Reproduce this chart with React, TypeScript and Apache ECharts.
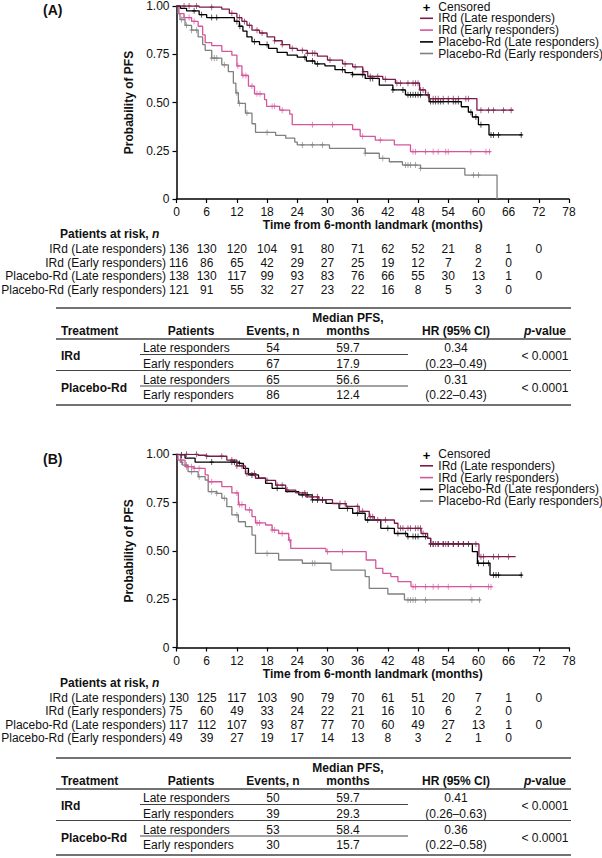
import React, { useEffect, useRef } from 'react';
import * as echarts from 'echarts';

const FONT = '"Liberation Sans", Arial, Helvetica, sans-serif';

const seriesNames = [
  'IRd (Late responders)',
  'IRd (Early responders)',
  'Placebo-Rd (Late responders)',
  'Placebo-Rd (Early responders)',
];
const seriesColors = ['#7b1b4a', '#d4569d', '#000000', '#808080'];
const timeTicks = [0, 6, 12, 18, 24, 30, 36, 42, 48, 54, 60, 66, 72, 78];

// ---------- Panel A: KM steps [month, probability] ----------
const aIrdLate = [[0,1],[4.5,0.994],[9,0.984],[10.5,0.962],[12,0.94],[13,0.92],[14,0.9],[15,0.875],[16.5,0.86],[18,0.84],[19.5,0.82],[21,0.8],[22.5,0.78],[24,0.77],[26,0.755],[28,0.74],[30,0.72],[33,0.7],[35,0.685],[37,0.66],[38,0.635],[41,0.62],[43.5,0.6],[48.3,0.565],[49.5,0.54],[50.2,0.52],[59.7,0.46],[67,0.46]];
const aIrdEarly = [[0,1],[0.5,0.96],[1.5,0.94],[3,0.92],[4.3,0.895],[5.2,0.85],[5.7,0.81],[7,0.795],[9,0.765],[11,0.745],[12,0.69],[13,0.64],[14.3,0.585],[15.5,0.545],[17.5,0.515],[17.9,0.48],[20.5,0.46],[22.5,0.44],[23,0.385],[35,0.36],[36.5,0.325],[39.5,0.305],[43.3,0.28],[46.5,0.245],[62.4,0.245]];
const aPboLate = [[0,1],[0.8,0.988],[2,0.975],[4.5,0.955],[6,0.94],[11.5,0.92],[12.5,0.895],[13.2,0.87],[14,0.84],[15,0.815],[16.5,0.8],[18.3,0.78],[20,0.76],[22,0.745],[24,0.735],[25.8,0.715],[27.5,0.7],[29.5,0.69],[31.5,0.67],[33.5,0.655],[35,0.645],[37.5,0.625],[40.3,0.59],[43,0.565],[45.5,0.54],[50.2,0.505],[56.6,0.478],[58,0.45],[58.8,0.425],[60,0.385],[62.1,0.332],[68.7,0.332]];
const aPboEarly = [[0,1],[0.3,0.96],[0.7,0.93],[1.7,0.9],[3,0.875],[4.3,0.84],[5.2,0.8],[5.7,0.77],[7,0.73],[9,0.695],[10.3,0.66],[11.3,0.6],[11.8,0.55],[12.3,0.495],[13.7,0.445],[15,0.39],[15.7,0.345],[19.7,0.33],[21.7,0.315],[23.5,0.295],[24,0.28],[30.4,0.262],[37.5,0.237],[40.3,0.211],[42.3,0.193],[44.9,0.176],[48.5,0.159],[57.3,0.124],[63.7,0]];

// censoring times (months)
const aIrdLateCens = [1.5,2.5,4,7,11,12.5,13.5,14.5,16,17,19.5,21,23,25,26,27,27.5,30.5,33.5,35.5,37.2,38.5,40,41.5,43.8,44.5,46,47,47.5,48,48.5,49,51,51.5,52,53,54,55,56,57.5,58,60.5,62,63,65,66.5];
const aIrdEarlyCens = [1.5,2.5,3.5,12.2,13.2,13.8,15,16,16.6,19,19.5,21,27,31,37,40.5,47,47.5,49.5,51,52,53.5,54,58.5,61.5,62.2];
const aPboLateCens = [3.5,5,7,8,12,12.6,15.5,18,25.5,27,28,33,35,37,38.5,39,43,45,46,46.5,47,47.5,48,48.5,50,50.5,51,51.5,52,52.5,53,54,55,55.5,56,58.5,59.5,60.5,62.5,63,64,68.5];
const aPboEarlyCens = [1,2,3,4,7,7.5,8,9.5,12,12.5,14,18,25,27,29,37.5,41,45.5,46,46.5,47.5,48.5,59,60];

const aRiskIrdLate = [136,130,120,104,91,80,71,62,52,21,8,1,0];
const aRiskIrdEarly = [116,86,65,42,29,27,25,19,12,7,2,0];
const aRiskPboLate = [138,130,117,99,93,83,76,66,55,30,13,1,0];
const aRiskPboEarly = [121,91,55,32,27,23,22,16,8,5,3,0];

const aEvents = [[54, 67], [65, 86]];
const aMedian = [['59.7', '17.9'], ['56.6', '12.4']];
const aHR = ['0.34', '0.31'];
const aCI = ['(0.23\u20130.49)', '(0.22\u20130.43)'];
const aP = ['< 0.0001', '< 0.0001'];

// ---------- Panel B ----------
const bIrdLate = [[0,1],[4.3,0.995],[6,0.99],[10,0.97],[12,0.94],[13.7,0.9],[15.7,0.876],[17.7,0.865],[19.7,0.84],[21.7,0.815],[23.7,0.8],[25.7,0.78],[28.3,0.765],[31,0.745],[33.7,0.73],[36.3,0.705],[38.3,0.677],[39.3,0.66],[43.3,0.643],[44,0.617],[48.6,0.59],[49.9,0.565],[50.5,0.536],[60.1,0.47],[67.4,0.47]];
const bIrdEarly = [[0,1],[0.3,0.97],[1.7,0.936],[3.5,0.927],[5.7,0.893],[6.3,0.858],[9,0.833],[11,0.8],[12.3,0.74],[13.7,0.712],[15,0.677],[15.7,0.645],[17.7,0.634],[19,0.608],[20.3,0.59],[22.3,0.556],[22.7,0.513],[29.7,0.496],[37.7,0.453],[39.6,0.41],[41,0.384],[42.6,0.367],[44,0.341],[46.6,0.315],[62.7,0.315]];
const bPboLate = [[0,1],[1,0.997],[1.7,0.98],[3.7,0.96],[12.5,0.953],[13.3,0.927],[14.3,0.893],[16.3,0.876],[17.7,0.85],[19,0.824],[21.7,0.807],[24.3,0.79],[27,0.764],[29.7,0.746],[32.3,0.72],[35,0.695],[37.5,0.66],[40.6,0.617],[43.3,0.59],[45.9,0.574],[49.9,0.565],[50.5,0.536],[58.8,0.496],[59.8,0.436],[62.3,0.375],[68.7,0.375]];
const bPboEarly = [[0,1],[0.8,0.96],[1.2,0.944],[2.3,0.91],[4.3,0.884],[5.7,0.867],[6.3,0.807],[8,0.798],[9,0.772],[10,0.729],[11,0.686],[12.3,0.651],[13.7,0.626],[15,0.582],[15.7,0.487],[20.3,0.453],[25,0.436],[30.7,0.4],[37.5,0.367],[38.3,0.306],[42,0.277],[45.3,0.246],[60.4,0.246]];

const bIrdLateCens = [2,4,6,9,11,12,13,14,15.5,18,20,21,22,25.5,27,28,29,32.5,33.5,36,37,38.5,39,40,41.5,44.5,45,46,46.5,47.5,48,48.5,49,50.5,51,51.5,52,53,53.5,54,55,56,57,59.5,60.5,61,63,64,66];
const bIrdEarlyCens = [1,2,3,3.5,4.5,7,12,12.5,13,14.5,16,16.5,19,19.5,21,22.5,30,33,47,47.5,49.5,51,52,54,58.5,62,62.5];
const bPboLateCens = [1,7,11,11.5,12.5,15,20,25,26,27,28,29,34,36,38,42,44,45.5,46,47,47.5,48,49.5,50.5,51,52,53,54,55,56,57,58,60,61,62,63,63.5,64,68.5];
const bPboEarlyCens = [1,2,3,4.5,7,8,9.5,12,18,27,27.5,46,46.5,47,47.5,49.5,58.7,60.2];

const bRiskIrdLate = [130,125,117,103,90,79,70,61,51,20,7,1,0];
const bRiskIrdEarly = [75,60,49,33,24,22,21,16,10,6,2,0];
const bRiskPboLate = [117,112,107,93,87,77,70,60,49,27,13,1,0];
const bRiskPboEarly = [49,39,27,19,17,14,13,8,3,2,1,0];

const bEvents = [[50, 39], [53, 30]];
const bMedian = [['59.7', '29.3'], ['58.4', '15.7']];
const bHR = ['0.41', '0.36'];
const bCI = ['(0.26\u20130.63)', '(0.22\u20130.58)'];
const bP = ['< 0.0001', '< 0.0001'];

const tableTreatments = ['IRd', 'Placebo-Rd'];
const tablePatients = ['Late responders', 'Early responders'];

const panels = [
  {
    label: '(A)', labelY: 10, top: 6, height: 193, legendTop: 6.5, tableTop: 308,
    km: [aIrdLate, aIrdEarly, aPboLate, aPboEarly],
    cens: [aIrdLateCens, aIrdEarlyCens, aPboLateCens, aPboEarlyCens],
    risk: [aRiskIrdLate, aRiskIrdEarly, aRiskPboLate, aRiskPboEarly],
    events: aEvents, median: aMedian, hr: aHR, ci: aCI, p: aP,
  },
  {
    label: '(B)', labelY: 459, top: 454.3, height: 193.2, legendTop: 454, tableTop: 758,
    km: [bIrdLate, bIrdEarly, bPboLate, bPboEarly],
    cens: [bIrdLateCens, bIrdEarlyCens, bPboLateCens, bPboEarlyCens],
    risk: [bRiskIrdLate, bRiskIrdEarly, bRiskPboLate, bRiskPboEarly],
    events: bEvents, median: bMedian, hr: bHR, ci: bCI, p: bP,
  },
];

function stepValue(km: number[][], t: number) {
  let v = km[0][1];
  for (const [x, y] of km) if (x <= t) v = y;
  return v;
}

function txt(x: number, y: number, text: string, opt: any = {}) {
  const style: any = {
    text,
    fontFamily: FONT,
    fontSize: opt.size || 12,
    fontWeight: opt.bold ? 'bold' : 'normal',
    fontStyle: opt.italic ? 'italic' : 'normal',
    fill: opt.color || '#111',
    align: opt.align || 'left',
    textAlign: opt.align || 'left',
    verticalAlign: 'middle',
    textVerticalAlign: 'middle',
  };
  if (opt.lineHeight) style.lineHeight = opt.lineHeight;
  return { type: 'text', x, y, silent: true, z: 10, style };
}
function hline(x1: number, x2: number, y: number, w = 1, color = '#333') {
  return { type: 'line', silent: true, z: 10, shape: { x1, y1: y, x2, y2: y }, style: { stroke: color, lineWidth: w } };
}

export default function App() {
  const ref = useRef<HTMLDivElement>(null);
  useEffect(() => {
    const chart = echarts.init(ref.current!, null, { renderer: 'svg' });
    const grid = panels.map((p) => ({ left: 176.5, width: 392.5, top: p.top, height: p.height }));
    const xAxis = panels.map((p, i) => ({
      type: 'value', gridIndex: i, min: 0, max: 78, interval: 6,
      name: 'Time from 6-month landmark (months)', nameLocation: 'middle', nameGap: 20,
      nameTextStyle: { fontFamily: FONT, fontSize: 12, fontWeight: 'bold', color: '#111' },
      axisLine: { lineStyle: { color: '#000', width: 1.5 } },
      axisTick: { length: 4, lineStyle: { color: '#000', width: 1.2 } },
      axisLabel: { margin: 7, fontFamily: FONT, fontSize: 12, color: '#111' },
      splitLine: { show: false },
    }));
    const yAxis = panels.map((p, i) => ({
      type: 'value', gridIndex: i, min: 0, max: 1, interval: 0.25,
      name: 'Probability of PFS', nameLocation: 'middle', nameGap: 34,
      nameTextStyle: { fontFamily: FONT, fontSize: 12, fontWeight: 'bold', color: '#111' },
      axisLine: { show: true, lineStyle: { color: '#000', width: 1.5 } },
      axisTick: { show: true, length: 4, lineStyle: { color: '#000', width: 1.2 } },
      axisLabel: {
        margin: 7, fontFamily: FONT, fontSize: 12, color: '#111',
        formatter: (v: number) => (v === 0 ? '0' : v.toFixed(2)),
      },
      splitLine: { show: false },
    }));
    const series: any[] = [];
    const drawOrder = [3, 1, 2, 0];
    panels.forEach((p, i) => {
      drawOrder.forEach((k, zi) => {
        series.push({
          type: 'line', name: seriesNames[k], xAxisIndex: i, yAxisIndex: i,
          data: p.km[k], step: 'end', symbol: 'none', showSymbol: false, z: 2 + zi,
          lineStyle: { color: seriesColors[k], width: 1.3 },
        });
        series.push({
          type: 'scatter', name: seriesNames[k] + ' censored', xAxisIndex: i, yAxisIndex: i,
          data: p.cens[k].map((t) => [t, stepValue(p.km[k], t)]),
          symbol: 'path://M0,5L10,5M5,0L5,10', symbolSize: [4, 6], z: 2 + zi,
          itemStyle: { color: seriesColors[k], borderColor: seriesColors[k], borderWidth: 1 },
        });
      });
    });
    chart.setOption({ animation: false, grid, xAxis, yAxis, series });

    const g: any[] = [];
    const riskOffsets = [50, 63.6, 77.2, 90.8];
    panels.forEach((p, i) => {
      const axisY = p.top + p.height;
      g.push(txt(43, p.labelY, p.label, { bold: true, size: 14 }));
      // legend
      const L = p.legendTop;
      g.push(txt(426.5, L + 1, '+', { bold: true, size: 13, align: 'center', color: '#000', lineHeight: 11 }));
      g.push(txt(438.3, L, 'Censored', { lineHeight: 11 }));
      const lOff = [11.8, 23.6, 35.4, 47];
      seriesNames.forEach((n, k) => {
        g.push({ type: 'line', silent: true, z: 10, shape: { x1: 420, y1: L + lOff[k], x2: 433, y2: L + lOff[k] }, style: { stroke: seriesColors[k], lineWidth: 1.6 } });
        g.push(txt(438.3, L + lOff[k], n, { lineHeight: 11 }));
      });
      // at-risk
      g.push({
        type: 'text', x: 60, y: axisY + 35.4, silent: true, z: 10,
        style: {
          text: '{b|Patients at risk, }{bi|n}', verticalAlign: 'middle', textVerticalAlign: 'middle',
          rich: {
            b: { fontFamily: FONT, fontSize: 12, fontWeight: 'bold', fill: '#111', color: '#111' },
            bi: { fontFamily: FONT, fontSize: 12, fontWeight: 'bold', fontStyle: 'italic', fill: '#111', color: '#111' },
          },
        },
      });
      p.risk.forEach((row, r) => {
        const y = axisY + riskOffsets[r];
        g.push(txt(166, y, seriesNames[r], { align: 'right' }));
        row.forEach((n, c) => {
          const x = c === 0 ? 169 : (chart.convertToPixel({ xAxisIndex: i } as any, timeTicks[c]) as number);
          g.push(txt(x, y, String(n), { align: c === 0 ? 'left' : 'center' }));
        });
      });
      // summary table
      const T = p.tableTop;
      const colPat = 191, colEv = 273, colMed = 348, colHR = 456, colP = 545;
      g.push(hline(56, 571, T, 1.5, '#444'));
      g.push(txt(61, T + 23, 'Treatment', { bold: true }));
      g.push(txt(colPat, T + 23, 'Patients', { bold: true, align: 'center' }));
      g.push(txt(colEv, T + 23, 'Events, n', { bold: true, align: 'center' }));
      g.push(txt(colMed, T + 10, 'Median PFS,', { bold: true, align: 'center' }));
      g.push(txt(colMed, T + 23, 'months', { bold: true, align: 'center' }));
      g.push(txt(colHR, T + 23, 'HR (95% CI)', { bold: true, align: 'center' }));
      g.push({
        type: 'text', x: colP, y: T + 23, silent: true, z: 10,
        style: {
          text: '{bi|p}{b|-value}', align: 'center', textAlign: 'center', verticalAlign: 'middle', textVerticalAlign: 'middle',
          rich: {
            b: { fontFamily: FONT, fontSize: 12, fontWeight: 'bold', fill: '#111', color: '#111' },
            bi: { fontFamily: FONT, fontSize: 12, fontWeight: 'bold', fontStyle: 'italic', fill: '#111', color: '#111' },
          },
        },
      });
      g.push(hline(56, 571, T + 31, 1.3, '#444'));
      tableTreatments.forEach((tr, gi) => {
        const base = T + 40 + gi * 31.5;
        g.push(txt(61, base + 8, tr, { bold: true }));
        tablePatients.forEach((pt, ri) => {
          const y = base + ri * 15.5;
          g.push(txt(143, y, pt, {}));
          g.push(txt(colEv, y, String(p.events[gi][ri]), { align: 'center' }));
          g.push(txt(colMed, y, p.median[gi][ri], { align: 'center' }));
        });
        g.push(hline(140, 408, base + 6.5, 1, '#444'));
        g.push(txt(colHR, base, p.hr[gi], { align: 'center' }));
        g.push(txt(colHR, base + 15.5, p.ci[gi], { align: 'center' }));
        g.push(txt(colP, base + 8, p.p[gi], { align: 'center' }));
      });
      g.push(hline(56, 571, T + 62.5, 1, '#444'));
      g.push(hline(56, 571, T + 97, 1.5, '#444'));
    });
    chart.setOption({ graphic: g });
    return () => chart.dispose();
  }, []);
  return <div ref={ref} style={{ position: 'absolute', left: 0, top: 0, width: 602, height: 858, background: '#fff' }} />;
}
